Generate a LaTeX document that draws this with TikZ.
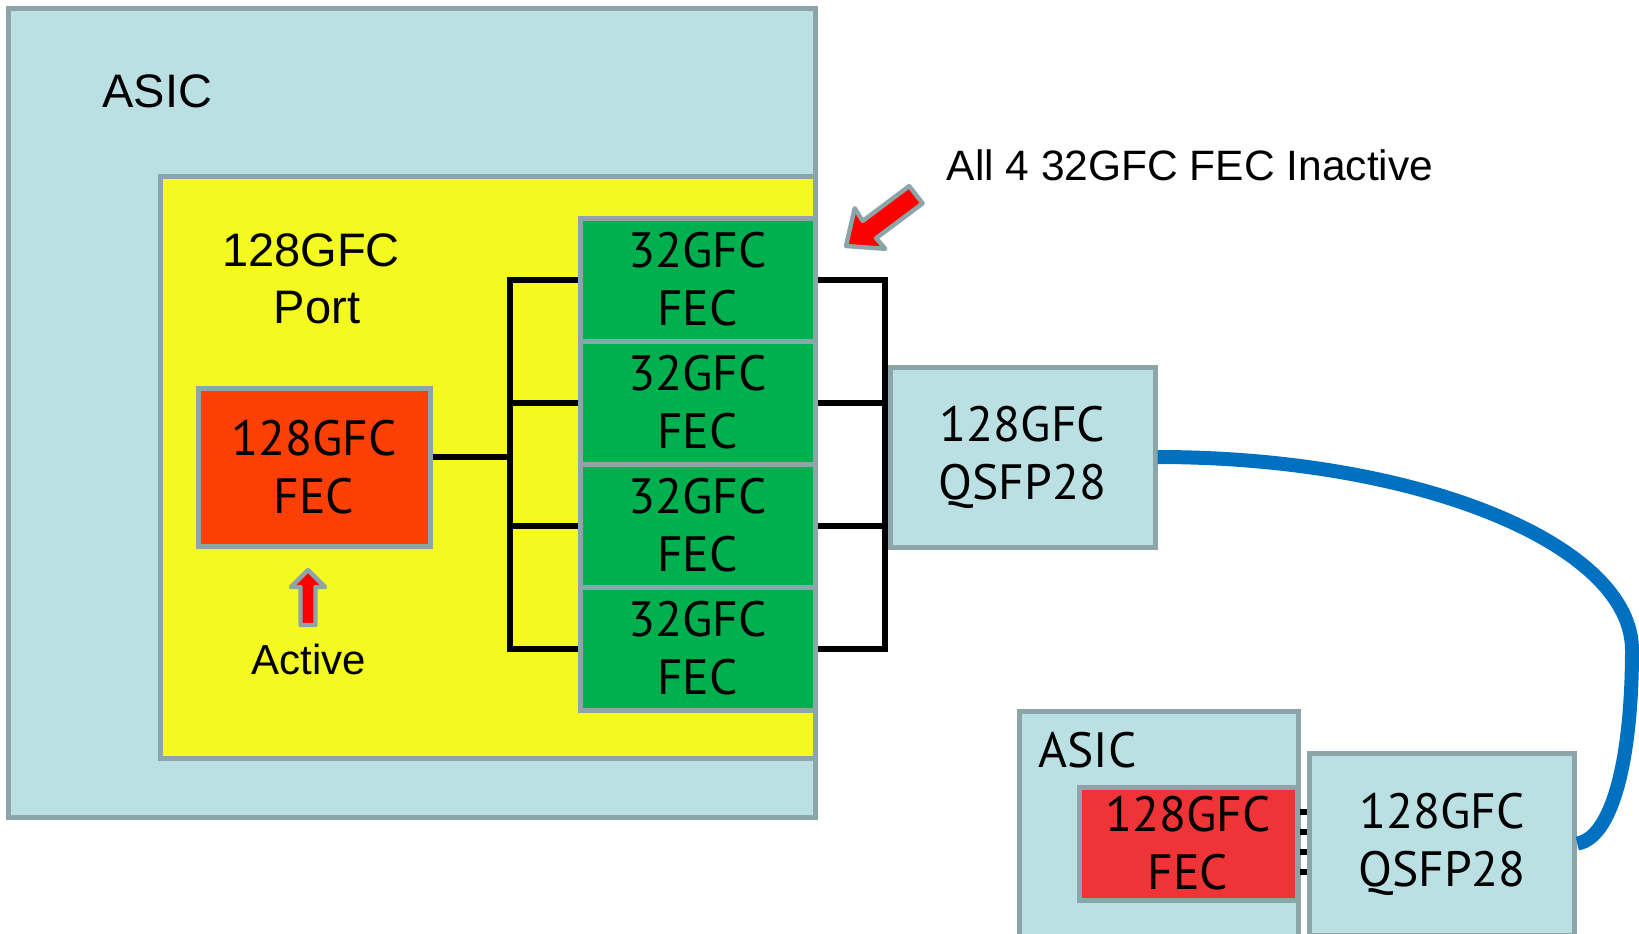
\documentclass[tikz,border=0pt]{standalone}
\usepackage{fontspec}
\setmainfont{Liberation Sans}
\newfontfamily\gillfont{PT Sans}
\definecolor{asicblue}{HTML}{BBE0E3}
\definecolor{bordergray}{HTML}{8CA5A8}
\definecolor{portyellow}{HTML}{F4F91F}
\definecolor{fecorange}{HTML}{FC3F05}
\definecolor{fecgreen}{HTML}{00B04F}
\definecolor{fecred}{HTML}{EE3436}
\definecolor{cableblue}{HTML}{0070C0}
\definecolor{arrowred}{HTML}{FF0000}
\tikzset{
  blockbox/.style={draw=bordergray, line width=2.5pt, inner sep=0pt, align=center,
    font=\gillfont\fontsize{24.8}{29}\selectfont},
  wire/.style={draw=black, line width=3pt},
  cable/.style={draw=cableblue, line width=7pt},
  blockarrow/.style={fill=arrowred, draw=bordergray, line width=2.2pt, line join=round},
  arialbig/.style={inner sep=0pt, align=center, font=\fontsize{23.5}{28.5}\selectfont},
}
\begin{document}
\begin{tikzpicture}[x=0.5pt,y=-0.5pt]
\begin{scope}
\clip (0,0) rectangle (1639,933);
\fill[white] (0,0) rectangle (1639,933);

% big ASIC
\node[blockbox, fill=asicblue, minimum width=403.5pt, minimum height=404.5pt] (asic) at (411.5,412.5) {};
\node[arialbig, anchor=base west] (asiclbl) at (102,107) {ASIC};

% 128GFC port
\node[blockbox, fill=portyellow, minimum width=327.5pt, minimum height=291pt] (port) at (487.5,467) {};
\node[arialbig] (portlbl) at (311,279) {128GFC\\\hspace*{6pt}Port};

% 128GFC FEC (active)
\node[blockbox, fill=fecorange, minimum width=116pt, minimum height=79pt] (fec) at (314,467) {128GFC\\FEC};

% 32GFC FECs
\node[blockbox, fill=fecgreen, minimum width=117.5pt, minimum height=61.5pt] (g1) at (697.5,279.5) {32GFC\\FEC};
\node[blockbox, fill=fecgreen, minimum width=117.5pt, minimum height=61.5pt] (g2) at (697.5,402.5) {32GFC\\FEC};
\node[blockbox, fill=fecgreen, minimum width=117.5pt, minimum height=61.5pt] (g3) at (697.5,525.5) {32GFC\\FEC};
\node[blockbox, fill=fecgreen, minimum width=117.5pt, minimum height=61.5pt] (g4) at (697.5,648.5) {32GFC\\FEC};

% QSFP28
\node[blockbox, fill=asicblue, minimum width=132.5pt, minimum height=90pt] (qsfp) at (1022.5,457) {128GFC\\QSFP28};

% left bracket
\coordinate (lb) at (510,457);
\draw[wire] ([yshift=5pt]fec.east) -- (lb);
\draw[wire] (g1.west) -| (lb) |- (g4.west);
\draw[wire] (g2.west) -- (g2.west -| lb);
\draw[wire] (g3.west) -- (g3.west -| lb);

% right bracket
\coordinate (rb) at (885,457);
\draw[wire] (g1.east) -| (rb) |- (g4.east);
\draw[wire] (g2.east) -- (g2.east -| rb);
\draw[wire] (g3.east) -- (g3.east -| rb);

% Active arrow
\draw[blockarrow] (308,570) -- (325,587) -- (315.5,587) -- (315.5,625) -- (300.5,625) -- (300.5,587) -- (291,587) -- cycle;
\node[inner sep=0pt, anchor=base, font=\fontsize{21}{25}\selectfont] (activelbl) at (309,674) {Active};

% Inactive arrow (tip at 845,247; direction u=(-0.792,0.611), n=(0.611,0.792))
\draw[blockarrow] (846,246) -- (885.3,248.8) -- (876.1,238.2) -- (922.6,203.4) -- (909.2,186.1) -- (862.7,220.9) -- (854.7,208.3) -- cycle;
\node[inner sep=0pt, anchor=base, font=\fontsize{21.25}{25}\selectfont] (inactivelbl) at (1190,180) {All 4 32GFC FEC Inactive};

% remote side
\node[blockbox, fill=asicblue, minimum width=139.5pt, minimum height=144.5pt] (sasic) at (1158.5,855.5) {};
\node[inner sep=0pt, anchor=base west, font=\gillfont\fontsize{24.8}{29}\selectfont] (sasiclbl) at (1038,767) {ASIC};
\node[blockbox, fill=fecred, minimum width=109pt, minimum height=56.5pt] (sfec) at (1188,843.5) {128GFC\\FEC};
\node[blockbox, fill=asicblue, minimum width=132.75pt, minimum height=91.25pt] (sqsfp) at (1442,844.25) {128GFC\\QSFP28};

\foreach \yy in {812,832,852,872}{
  \draw[draw=black, line width=3pt] (sfec.east |- 0,\yy) -- (sqsfp.west |- 0,\yy);
}

% cable
\draw[cable] (qsfp.east) .. controls (1420,457) and (1632,545) .. (1632,650)
  .. controls (1632,760) and (1612,838) .. (sqsfp.east |- sfec);
\end{scope}
\pgfresetboundingbox
\useasboundingbox (0,0) rectangle (1639,933);
\end{tikzpicture}
\end{document}
